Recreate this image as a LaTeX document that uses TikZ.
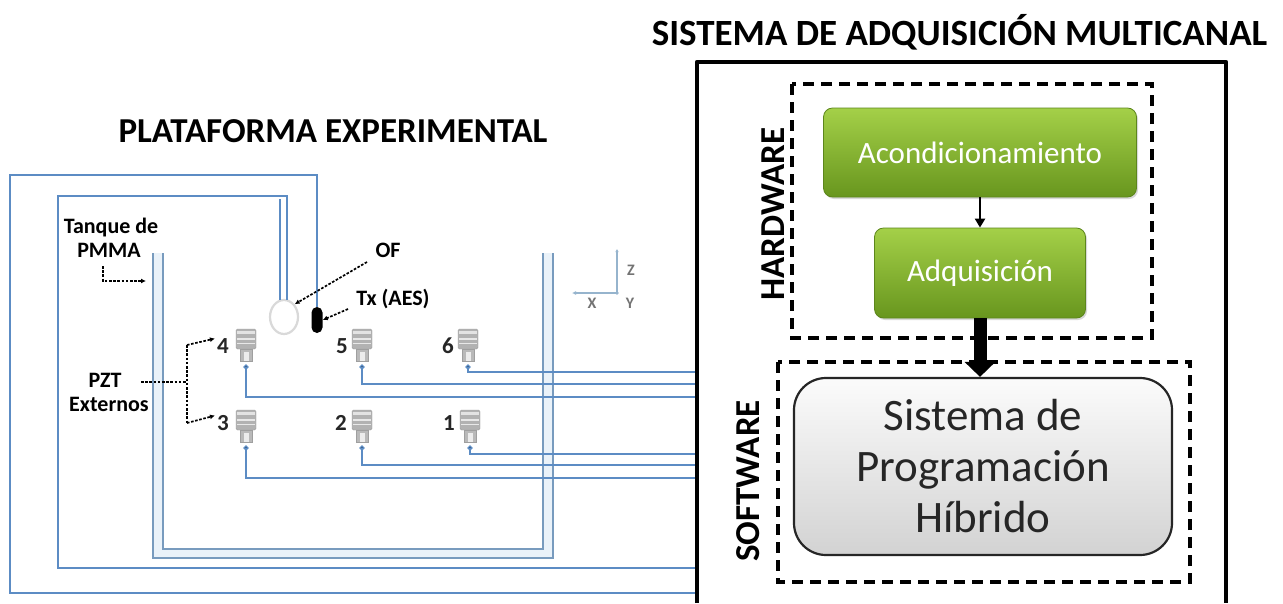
\documentclass[tikz,border=0pt]{standalone}
\usepackage{fontspec}
\setmainfont{Carlito}
\usetikzlibrary{arrows.meta,shapes.geometric,calc,shadows}

\definecolor{cable}{RGB}{92,140,196}
\definecolor{wall}{RGB}{120,155,190}
\definecolor{wallfill}{RGB}{234,242,249}
\definecolor{greenTop}{RGB}{164,208,72}
\definecolor{greenBot}{RGB}{104,150,30}
\definecolor{greenEdge}{RGB}{92,134,28}
\definecolor{axisc}{RGB}{150,180,205}

\tikzset{
  cable/.style={draw=cable, line width=1.4pt},
  wallline/.style={draw=wall, line width=1.3pt},
  title/.style={font=\fontsize{37}{40}\selectfont\bfseries, anchor=base, inner sep=0pt},
  lab/.style={font=\fontsize{22}{24}\selectfont\bfseries, anchor=base, inner sep=0pt},
  num/.style={font=\fontsize{23}{25}\selectfont\bfseries, anchor=base, inner sep=0pt, text=black!85},
  axlab/.style={font=\fontsize{16}{18}\selectfont\bfseries, text=black!55, inner sep=0pt},
  ann/.style={line width=1.7pt, dash pattern=on 2.6pt off 1.6pt, -{Latex[length=5pt,width=5pt]}},
  annplain/.style={line width=1.7pt, dash pattern=on 2.6pt off 1.6pt},
  dashbox/.style={draw=black, line width=3.6pt, dash pattern=on 11pt off 7pt},
  greenbox/.style={rounded corners=9pt, draw=greenEdge, line width=0.8pt,
    top color=greenTop, bottom color=greenBot, text=white, inner sep=0pt,
    font=\fontsize{31}{34}\selectfont,
    drop shadow={opacity=0.3, shadow xshift=1.5pt, shadow yshift=-2pt}},
  sysbox/.style={rounded corners=32pt, draw=black!85, line width=2.2pt,
    top color=white!97!gray, bottom color=gray!35, text=black!85,
    align=center, inner sep=0pt, font=\fontsize{45}{51}\selectfont},
  side/.style={font=\fontsize{35}{38}\selectfont\bfseries, rotate=90, inner sep=0pt},
  pzt/.pic={
    \path[fill=gray!60, draw=gray!75, rounded corners=1.5pt] (-10,0) rectangle (10,20);
    \fill[gray!22] (-9,1.5) rectangle (9,5);
    \fill[gray!18] (-9,8.5) rectangle (9,10.5);
    \fill[gray!18] (-9,13.5) rectangle (9,15);
    \path[fill=gray!55, draw=gray!75] (-6,20) rectangle (6,32);
    \fill[white!85!gray] (-2.5,23) rectangle (2.5,32);
    \coordinate (-dot) at (0,38);
    \fill[cable] (-dot) circle (1.9);
  }
}

\begin{document}
\begin{tikzpicture}[x=1pt,y=-1pt]
\useasboundingbox[fill=white] (0,0) rectangle (1283,603);

% ---------- titles ----------
\node[title] (tsys) at (959.5,45) {SISTEMA DE ADQUISICIÓN MULTICANAL};
\node[title, font=\fontsize{35}{38}\selectfont\bfseries] (tplat) at (333,142) {PLATAFORMA EXPERIMENTAL};

% ---------- PMMA tank (double wall) ----------
\fill[wallfill] (153,253) -- (153,558) -- (553,558) -- (553,253) -- (543,253)
  -- (543,549) -- (163,549) -- (163,253) -- cycle;
\draw[wallline] (153,253) -- (153,558) -- (553,558) -- (553,253);
\draw[wallline] (163,253) -- (163,549) -- (543,549) -- (543,253);

% ---------- cable end points on the acquisition system ----------
\coordinate (e6) at (697,372);
\coordinate (e5) at (697,384);
\coordinate (e4) at (697,397);
\coordinate (e1) at (697,454);
\coordinate (e2) at (697,465);
\coordinate (e3) at (697,478);
\coordinate (eOF) at (697,568);
\coordinate (eTx) at (697,593);

% ---------- optical fibre and AES transducer ----------
\node[ellipse, draw=gray!30, line width=2.2pt, fill=white, minimum width=28pt,
      minimum height=34pt, inner sep=0pt] (ofb) at (284,317) {};
\node[fill=black, rounded corners=5.5pt, minimum width=11pt, minimum height=26pt,
      inner sep=0pt] (tx) at (317,320) {};

\coordinate (of1) at (287,196);
\coordinate (of1b) at (280,199);
\coordinate (of2) at (58,196);
\coordinate (of3) at (58,568);
\draw[cable] ($(ofb.north)+(3,1)$) -- (of1) -- (of2) -- (of3) -- (eOF);
\draw[cable] ($(ofb.north)+(-4,1)$) -- (of1b);

\coordinate (tx1) at (317,175);
\coordinate (tx2) at (10,175);
\coordinate (tx3) at (10,593);
\draw[cable] (tx.north) -- (tx1) -- (tx2) -- (tx3) -- (eTx);

% ---------- PZT sensors ----------
\pic (s4) at (246,329) {pzt};
\pic (s5) at (362,329) {pzt};
\pic (s6) at (468,329) {pzt};
\pic (s3) at (246,410) {pzt};
\pic (s2) at (362,410) {pzt};
\pic (s1) at (470,410) {pzt};

\draw[cable] (s6-dot) |- (e6);
\draw[cable] (s5-dot) |- (e5);
\draw[cable] (s4-dot) |- (e4);
\draw[cable] (s1-dot) |- (e1);
\draw[cable] (s2-dot) |- (e2);
\draw[cable] (s3-dot) |- (e3);

\node[num] (n4) at (223,353) {4};
\node[num] (n5) at (342,353) {5};
\node[num] (n6) at (448,353) {6};
\node[num] (n3) at (223,430) {3};
\node[num] (n2) at (341,430) {2};
\node[num] (n1) at (449,430) {1};

% ---------- axes ----------
\coordinate (ax0) at (617,293);
\coordinate (axz) at (617,249);
\coordinate (axx) at (572,293);
\draw[axisc, line width=1.2pt, -{Latex[length=3pt,width=3.5pt]}] (ax0) -- (axz);
\draw[axisc, line width=1.2pt, -{Latex[length=4pt,width=4pt]}] (ax0) -- (axx);
\fill[axisc] (ax0) circle (1.8);
\node[axlab] (lz) at (631,270) {Z};
\node[axlab] (lx) at (592,303) {X};
\node[axlab] (ly) at (630,303) {Y};

% ---------- labels and pointers ----------
\node[lab] (tq1) at (111,233) {Tanque de};
\node[lab] (tq2) at (109,257) {PMMA};
\coordinate (tqa) at (103,266);
\coordinate (tqb) at (103,281);
\coordinate (tqc) at (146,281);
\draw[ann] (tqa) -- (tqb) -- (tqc);

\node[lab] (pz1) at (105,387) {PZT};
\node[lab] (pz2) at (109,411) {Externos};
\coordinate (pzs) at (141,382);
\coordinate (pzj) at (187,382);
\coordinate (pzu) at (187,345);
\coordinate (pzd) at (187,423);
\draw[annplain] (pzs) -- (pzj);
\draw[annplain] (pzu) -- (pzd);
\draw[ann] (pzu) -- ($(n4.west)+(-2,-7)$);
\draw[ann] (pzd) -- ($(n3.west)+(-2,-7)$);

\node[lab] (lof) at (388,257) {OF};
\coordinate (ofa) at (367,262);
\draw[ann] (ofa) -- (ofb.north east);
\node[lab] (ltx) at (393,305) {Tx (AES)};
\coordinate (txa) at (348,309);
\draw[ann] (txa) -- (tx.east);

% ---------- acquisition system ----------
\draw[line width=4.5pt, line join=round] (697,603) -- (697,62) -- (1226,62) -- (1226,603);

\draw[dashbox] (792,84) rectangle (1152,338);
\draw[dashbox] (778,362) rectangle (1190,582);

\node[side] (hw) at (773,214) {HARDWARE};
\node[side] (sw) at (748,481) {SOFTWARE};

\node[greenbox, minimum width=313pt, minimum height=89pt] (acond) at (980,152.5) {Acondicionamiento};
\node[greenbox, minimum width=211pt, minimum height=90pt] (adq) at (980,273) {Adquisición};
\node[sysbox, minimum width=378pt, minimum height=177pt] (sis) at (983,466.5)
  {Sistema de\\Programación\\Híbrido};

\draw[line width=2.2pt, -{Triangle[length=9pt,width=10pt]}] (acond.south) -- (adq.north);
\draw[line width=13pt, -{Triangle[length=15pt,width=30pt]}] (adq.south) -- (adq.south |- sis.north);

\end{tikzpicture}
\end{document}
